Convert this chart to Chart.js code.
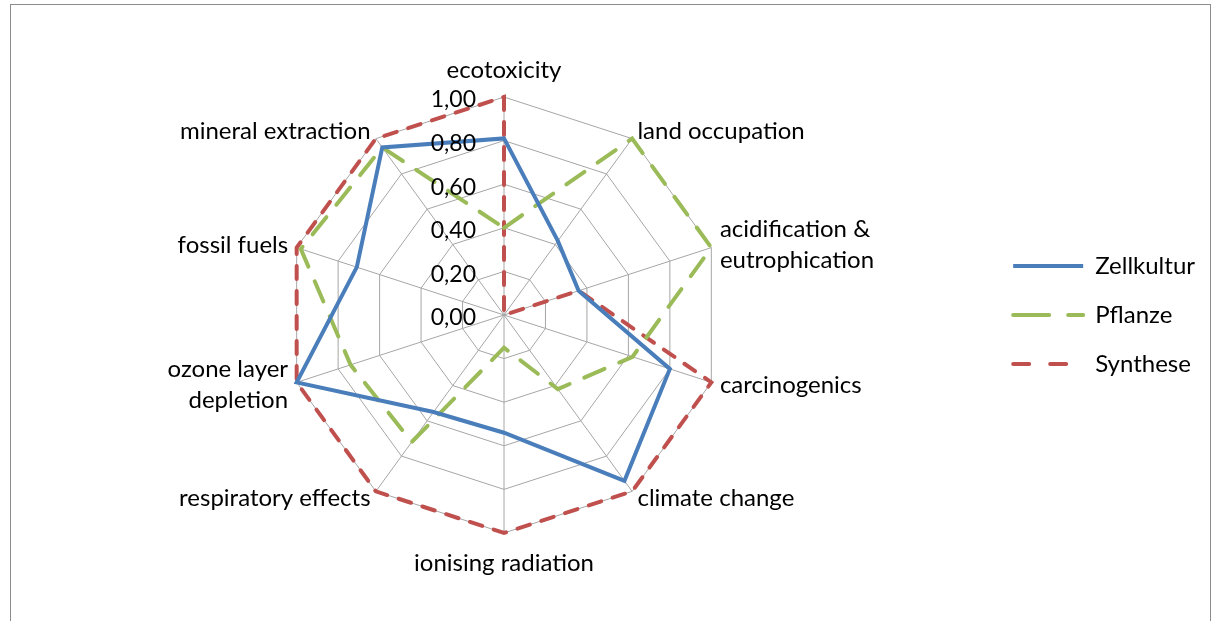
<!DOCTYPE html>
<html>
<head>
<meta charset="utf-8">
<script src="https://cdn.jsdelivr.net/npm/chart.js@4"></script>
<style>
  body { margin: 0; background: #fff; }
  #frame { position: absolute; left: 10px; top: 4px; width: 1199px; height: 640px; border: 1px solid #8c8c8c; }
  #wrap { position: absolute; left: 0; top: 0; width: 1199px; height: 616px; }
</style>
</head>
<body>
<div id="frame"><div id="wrap"><canvas id="radar"></canvas></div></div>
<script>
// categories, clockwise from the top
const categories = [
  'ecotoxicity',
  'land occupation',
  ['acidification &', 'eutrophication'],
  'carcinogenics',
  'climate change',
  'ionising radiation',
  'respiratory effects',
  ['ozone layer', 'depletion'],
  'fossil fuels',
  'mineral extraction'
];

const zellkultur = [0.81, 0.42, 0.36, 0.80, 0.94, 0.54, 0.55, 1.00, 0.71, 0.95];
const pflanze    = [0.40, 1.00, 1.00, 0.62, 0.42, 0.15, 0.72, 0.74, 0.98, 0.95];
const synthese   = [1.00, 0.00, 0.36, 1.00, 1.00, 1.00, 1.00, 1.00, 1.00, 1.00];

const tickValues = [0, 0.2, 0.4, 0.6, 0.8, 1.0];

const FONT = 'Lato';
const fmt = v => v.toFixed(2).replace('.', ',');

// Excel-style tick labels to the left of the vertical axis
const tickLabels = {
  id: 'tickLabels',
  afterDatasetsDraw(chart) {
    const s = chart.scales.r;
    const ctx = chart.ctx;
    ctx.save();
    ctx.font = '23px ' + FONT;
    ctx.fillStyle = '#000';
    ctx.textAlign = 'right';
    ctx.textBaseline = 'middle';
    tickValues.forEach(v => {
      const d = s.getDistanceFromCenterForValue(v);
      ctx.fillText(fmt(v), s.xCenter - 28, s.yCenter - d + 3);
    });
    ctx.restore();
  }
};

// category labels placed like Excel does: centred on the spoke end, not above/below it
const spokeLabels = {
  id: 'spokeLabels',
  afterDraw(chart) {
    const s = chart.scales.r;
    const ctx = chart.ctx;
    const lineH = 31;
    ctx.save();
    ctx.font = '24px ' + FONT;
    ctx.fillStyle = '#000';
    ctx.textBaseline = 'middle';
    categories.forEach((label, i) => {
      const p = s.getPointPosition(i, s.drawingArea + 9);
      const dx = p.x - s.xCenter;
      const lines = Array.isArray(label) ? label : [label];
      let y = p.y;
      if (Math.abs(dx) < 1) {
        ctx.textAlign = 'center';
        y += p.y < s.yCenter ? -18 : 21;
      } else {
        ctx.textAlign = dx > 0 ? 'left' : 'right';
      }
      const y0 = y - (lines.length - 1) * lineH / 2;
      lines.forEach((t, k) => ctx.fillText(t, p.x, y0 + k * lineH));
    });
    ctx.restore();
  }
};

// legend samples use a longer dash than the plot, as in Excel
const legendDash = { Zellkultur: [], Pflanze: [36, 19], Synthese: [16, 21] };

function line(label, data, color, dash) {
  return {
    label: label,
    data: data,
    borderColor: color,
    backgroundColor: color,
    borderWidth: 4,
    borderDash: dash,
    borderCapStyle: dash.length ? 'round' : 'butt',
    borderJoinStyle: 'miter',
    fill: false,
    pointRadius: 0,
    pointHoverRadius: 0
  };
}

new Chart(document.getElementById('radar'), {
  type: 'radar',
  data: {
    labels: categories,
    datasets: [
      line('Zellkultur', zellkultur, '#4a7ebb', []),
      line('Pflanze', pflanze, '#9bbb59', [22, 16]),
      line('Synthese', synthese, '#c0504d', [13, 12])
    ]
  },
  options: {
    responsive: true,
    maintainAspectRatio: false,
    animation: false,
    layout: { padding: { top: 92, bottom: 88, left: 10, right: 5 } },
    plugins: {
      legend: {
        position: 'right',
        labels: {
          usePointStyle: true,
          pointStyle: 'line',
          pointStyleWidth: 70,
          padding: 25,
          color: '#000',
          font: { family: FONT, size: 24 },
          // the point style hides the dash pattern, copy it from the datasets
          generateLabels(chart) {
            const items = Chart.defaults.plugins.legend.labels.generateLabels(chart);
            items.forEach(it => {
              const ds = chart.data.datasets[it.datasetIndex];
              it.lineDash = legendDash[ds.label];
              it.lineCap = ds.borderCapStyle;
              it.lineWidth = ds.borderWidth;
              it.strokeStyle = ds.borderColor;
            });
            return items;
          }
        }
      },
      tooltip: { enabled: false }
    },
    scales: {
      r: {
        min: 0,
        max: 1,
        ticks: { stepSize: 0.2, display: false },
        grid: { color: '#a6a6a6', lineWidth: 1 },
        angleLines: { color: '#a6a6a6', lineWidth: 1 },
        pointLabels: { display: false }
      }
    }
  },
  plugins: [tickLabels, spokeLabels]
});
</script>
</body>
</html>
